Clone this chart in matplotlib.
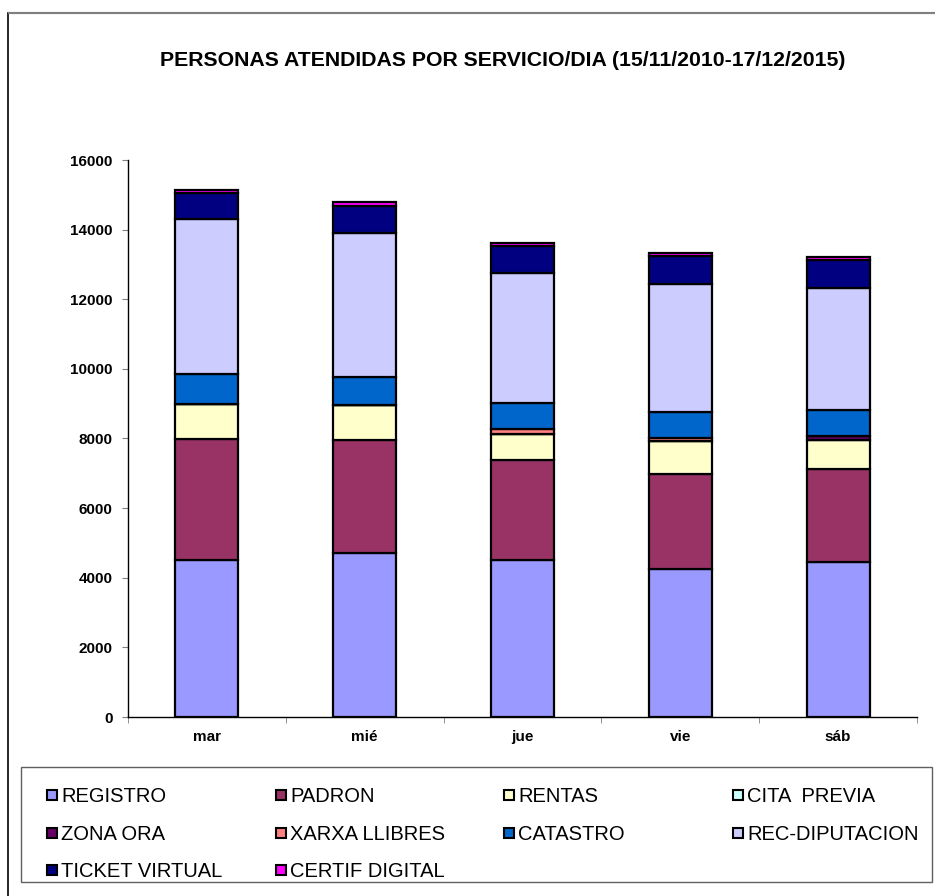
import matplotlib
matplotlib.use("Agg")
import matplotlib.pyplot as plt
from matplotlib.patches import Rectangle
import numpy as np

plt.rcParams['font.family'] = ['Liberation Sans', 'DejaVu Sans']

days = ["mar", "mié", "jue", "vie", "sáb"]
series_names = ["REGISTRO", "PADRON", "RENTAS", "CITA  PREVIA", "ZONA ORA",
                "XARXA LLIBRES", "CATASTRO", "REC-DIPUTACION", "TICKET VIRTUAL",
                "CERTIF DIGITAL"]
registro = [4500, 4710, 4500, 4240, 4450]
padron = [3490, 3250, 2870, 2730, 2680]
rentas = [1000, 1000, 770, 950, 840]
cita_previa = [0, 0, 0, 0, 0]
zona_ora = [0, 0, 0, 0, 115]
xarxa_llibres = [0, 0, 120, 80, 0]
catastro = [860, 810, 760, 750, 740]
rec_diputacion = [4460, 4120, 3720, 3700, 3500]
ticket_virtual = [750, 800, 790, 780, 800]
certif_digital = [90, 100, 100, 95, 95]
colors = ["#9999FF", "#993366", "#FFFFCC", "#CCFFFF", "#660066",
          "#FF8080", "#0066CC", "#CCCCFF", "#000080", "#FF00FF"]

all_series = [registro, padron, rentas, cita_previa, zona_ora, xarxa_llibres,
              catastro, rec_diputacion, ticket_virtual, certif_digital]

W, H = 935, 896
fig = plt.figure(figsize=(W / 100, H / 100), dpi=100)

def fx(px):
    return px / W

def fy(py):
    return 1 - py / H

# outer chart frame
fig.patches.append(Rectangle((fx(8), fy(H + 5)), fx(W + 5 - 8), fy(13) - fy(H + 5),
                             transform=fig.transFigure, fill=False,
                             edgecolor="#000000", linewidth=1.2))
fig.patches.append(Rectangle((fx(8), fy(13)), fx(W), 0,
                             transform=fig.transFigure, fill=False,
                             edgecolor="#808080", linewidth=1.5))

ax_left, ax_right, ax_top, ax_bottom = 128, 917, 160, 717
ax = fig.add_axes([fx(ax_left), fy(ax_bottom), fx(ax_right - ax_left),
                   fy(ax_top) - fy(ax_bottom)])

x = np.arange(len(days))
bottom = np.zeros(len(days))
for vals, col in zip(all_series, colors):
    v = np.array(vals, dtype=float)
    ax.bar(x, v, width=0.4, bottom=bottom, color=col, edgecolor="black",
           linewidth=1.6, zorder=3)
    bottom += v

ax.set_xlim(-0.5, len(days) - 0.5)
ax.set_ylim(0, 16000)
ax.set_yticks(np.arange(0, 16001, 2000))
ax.set_yticklabels([str(v) for v in range(0, 16001, 2000)],
                   fontsize=11, fontweight="bold")
ax.set_xticks(x)
ax.set_xticklabels(days, fontsize=11, fontweight="bold")
ax.set_xticks(np.arange(-0.5, len(days) + 0.5, 1), minor=True)
ax.tick_params(axis="x", which="major", length=0, pad=9)
ax.tick_params(axis="x", which="minor", length=4, direction="out", color="#808080")
ax.tick_params(axis="y", length=4, direction="out", pad=7, color="#808080")
for s in ["top", "right"]:
    ax.spines[s].set_visible(False)
ax.spines["left"].set_linewidth(1.0)
ax.spines["bottom"].set_linewidth(1.0)

fig.text(fx(503), fy(60), "PERSONAS ATENDIDAS POR SERVICIO/DIA (15/11/2010-17/12/2015)",
         ha="center", va="center", fontsize=15.3, fontweight="bold")

# legend box
lx0, ly0, lx1, ly1 = 21, 767, 932, 882
fig.patches.append(Rectangle((fx(lx0), fy(ly1)), fx(lx1 - lx0), fy(ly0) - fy(ly1),
                             transform=fig.transFigure, fill=False,
                             edgecolor="#606060", linewidth=1.0))
col_x = [47, 276, 504, 733]
row_y = [795, 833, 870]
msz = 10
for i, (name, col) in enumerate(zip(series_names, colors)):
    r, c = divmod(i, 4)
    mx, my = col_x[c], row_y[r]
    fig.patches.append(Rectangle((fx(mx), fy(my + msz / 2)), fx(msz), fy(0) - fy(msz),
                                 transform=fig.transFigure, facecolor=col,
                                 edgecolor="black", linewidth=1.5))
    fig.text(fx(mx + msz + 4), fy(my + 1), name, ha="left", va="center", fontsize=14.5)

fig.savefig("out.png", dpi=100)
